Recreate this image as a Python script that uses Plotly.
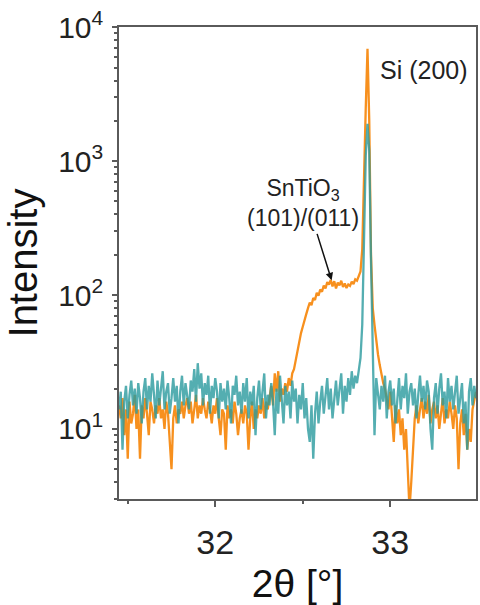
import numpy as np
import plotly.graph_objects as go

# 2-theta scan grid (deg)
two_theta = np.round(np.arange(31.45, 33.495, 0.01), 2)

# substrate-only scan (teal)
teal_counts = [
    14, 19, 7, 16, 21, 12, 18, 23, 15, 20,
    13, 22, 17, 11, 19, 24, 14, 21, 16, 26,
    18, 12, 23, 15, 20, 27, 14, 19, 22, 13,
    17, 24, 16, 21, 11, 19, 25, 15, 22, 18,
    14, 23, 19, 28, 16, 31, 20, 26, 15, 22,
    18, 25, 13, 21, 17, 24, 19, 12, 22, 16,
    20, 14, 23, 17, 11, 21, 18, 25, 15, 19,
    13, 22, 16, 24, 12, 19, 15, 21, 9, 17,
    23, 14, 19, 26, 12, 18, 15, 22, 16, 9,
    20, 13, 25, 17, 11, 21, 15, 19, 12, 23,
    16, 20, 11, 18, 14, 22, 12, 17, 10, 8,
    15, 6, 13, 19, 11, 16, 21, 13, 18, 24,
    14, 20, 12, 17, 23, 15, 19, 26, 13, 21,
    16, 24, 18, 27, 20, 25, 22, 28, 34, 60,
    250, 1100, 1900, 1200, 180, 30, 9, 24, 19, 14,
    21, 16, 25, 12, 19, 23, 15, 20, 11, 18,
    24, 14, 21, 17, 26, 13, 19, 22, 15, 20,
    12, 18, 25, 16, 21, 14, 23, 19, 10, 7,
    17, 22, 13, 20, 26, 15, 19, 12, 24, 16,
    21, 14, 19, 25, 13, 18, 22, 11, 16, 7,
    19, 24, 15, 21, 17,
]

# SnTiO3 film scan (orange)
orange_counts = [
    15, 12, 17, 9, 14, 6, 16, 11, 13, 18,
    10, 14, 6, 15, 12, 17, 13, 9, 16, 14,
    11, 15, 13, 17, 12, 14, 10, 16, 13, 8,
    5, 12, 15, 11, 14, 13, 16, 12, 15, 17,
    13, 16, 11, 14, 18, 12, 15, 13, 17, 14,
    12, 16, 14, 11, 15, 13, 17, 12, 9, 14,
    13, 7, 15, 12, 14, 11, 16, 13, 9, 12,
    14, 11, 15, 13, 7, 12, 16, 10, 14, 12,
    15, 13, 17, 12, 16, 14, 18, 21, 15, 26,
    19, 27, 16, 20, 18, 22, 19, 24, 21, 26,
    28, 33, 38, 45, 52, 58, 66, 72, 80, 88,
    84, 95, 92, 104, 99, 110, 106, 118, 112, 125,
    120, 130, 116, 127, 112, 124, 118, 128, 115, 122,
    113, 120, 117, 126, 121, 131, 128, 140, 150, 220,
    600, 2500, 6900, 2000, 200, 80, 60, 45, 36, 30,
    25, 22, 20, 17, 14, 19, 12, 8, 15, 11,
    14, 9, 12, 7, 10, 5, 2.5, 4, 8, 12,
    15, 11, 14, 17, 12, 16, 13, 18, 11, 14,
    16, 12, 15, 10, 13, 17, 11, 14, 12, 16,
    13, 10, 15, 12, 5, 11, 14, 9, 13, 7,
    10, 8, 14, 17, 19,
]

y_tickvals = [10, 100, 1000, 10000]
y_ticktext = ["10<sup>1</sup>", "10<sup>2</sup>", "10<sup>3</sup>", "10<sup>4</sup>"]
y_minor = [k * 10 ** d for d in range(0, 4) for k in range(2, 10) if 3 <= k * 10 ** d <= 10000]
x_tickvals = [32, 33]
x_minor = [31.5, 32.5, 33.5]

FONT = "Liberation Sans, Arial, sans-serif"
AXC = "#5a5a5a"

fig = go.Figure()
fig.add_trace(go.Scatter(x=two_theta, y=orange_counts, mode="lines",
                         line=dict(color="#F7901E", width=2.3), showlegend=False))
fig.add_trace(go.Scatter(x=two_theta, y=teal_counts, mode="lines",
                         line=dict(color="#2A9A9E", width=2.3), opacity=0.8, showlegend=False))

fig.update_layout(
    width=480, height=605,
    margin=dict(l=119, r=2, t=27, b=106),
    paper_bgcolor="white", plot_bgcolor="white",
    font=dict(family=FONT, color="#222"),
    xaxis=dict(range=[31.45, 33.49], tickvals=x_tickvals, ticks="outside", ticklen=6,
               tickwidth=1.5, tickcolor=AXC,
               minor=dict(tickvals=x_minor, ticks="outside", ticklen=3, tickcolor=AXC),
               showline=True, linecolor=AXC, linewidth=1.5, mirror=True,
               showgrid=False, zeroline=False,
               tickfont=dict(size=34, color="#222"), ticklabelstandoff=6,
               title=dict(text="2θ [°]", font=dict(size=39, color="#111"), standoff=10)),
    yaxis=dict(type="log", range=[np.log10(3.0), 4.002], tickvals=y_tickvals, ticktext=y_ticktext,
               ticks="outside", ticklen=5, tickwidth=1.5, tickcolor=AXC,
               minor=dict(tickvals=y_minor, ticks="outside", ticklen=3, tickcolor=AXC),
               showline=True, linecolor=AXC, linewidth=1.5, mirror=True,
               showgrid=False, zeroline=False,
               tickfont=dict(size=30, color="#222"), ticklabelstandoff=3,
               title=dict(text="Intensity", font=dict(size=40, color="#111"), standoff=8)),
)

fig.add_annotation(x=32.93, y=3.68, xref="x", yref="y", text="Si (200)", showarrow=False,
                   xanchor="left", yanchor="middle", font=dict(size=25, color="#222"))
fig.add_annotation(x=32.5, y=2.69, xref="x", yref="y",
                   text="SnTiO<sub>3</sub><br>(101)/(011)", showarrow=False,
                   xanchor="center", yanchor="middle", font=dict(size=23, color="#222"))
fig.add_annotation(x=32.665, y=2.11, xref="x", yref="y", text="", showarrow=True,
                   ax=-15, ay=-48, arrowhead=2, arrowsize=1, arrowwidth=1.5, arrowcolor="#111")

fig.write_html("out.html")
